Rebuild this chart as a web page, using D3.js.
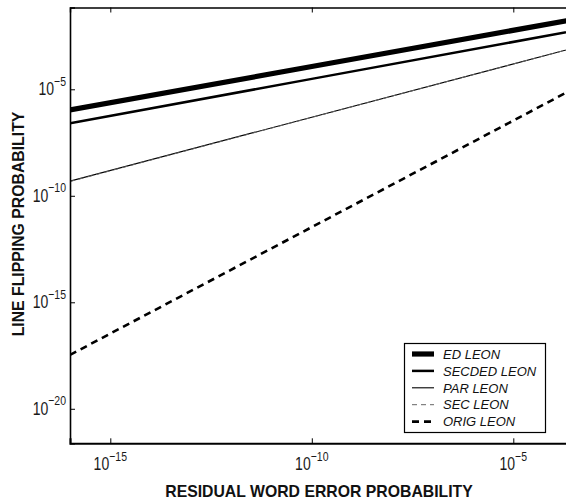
<!DOCTYPE html>
<html><head><meta charset="utf-8">
<script src="https://cdn.jsdelivr.net/npm/d3@7"></script>
<style>body{margin:0;background:#fff}svg{display:block}</style>
</head><body>
<svg id="c" width="566" height="500"></svg>
<script>
// residual word error probability (x) at which values were read
const xValues = [1e-16, 1e-10, 1e-3];
// line flipping probability, as log10
const edLeon     = [-5.97, -3.93, -1.55];
const secdedLeon = [-6.60, -4.51, -2.08];
const parLeon    = [-9.31, -6.31, -2.81];
const secLeon    = [-9.33, -6.32, -2.81];
const origLeon   = [-17.47, -11.47, -4.47];
const seriesNames = ["ED LEON", "SECDED LEON", "PAR LEON", "SEC LEON", "ORIG LEON"];
const xTickExps = [-15, -10, -5];
const yTickExps = [-20, -15, -10, -5];

const styles = [
  {w: 5.2, dash: null,  color: "#000"},
  {w: 2.5, dash: null,  color: "#000"},
  {w: 1.1, dash: null,  color: "#000"},
  {w: 1,   dash: "5,4", color: "#666"},
  {w: 2.6, dash: "7,5", color: "#000"}
];
const seriesData = [edLeon, secdedLeon, parLeon, secLeon, origLeon];

const svg = d3.select("#c");
const L = 70, T = 7.5, B = 443.3;
const x = d3.scaleLog().domain([1e-16, 1e-3]).range([L, L + 40.3 * 13]);
const y = d3.scaleLog().domain([Math.pow(10, -21.62), Math.pow(10, -1.16)]).range([B, T]);
const R = x.range()[1];

svg.append("defs").append("clipPath").attr("id", "clip")
  .append("rect").attr("x", L).attr("y", T).attr("width", R - L).attr("height", B - T);

const line = d3.line().x(d => x(d[0])).y(d => y(Math.pow(10, d[1])));
const g = svg.append("g").attr("clip-path", "url(#clip)");
seriesData.forEach((s, i) => {
  const pts = xValues.map((xv, j) => [xv, s[j]]);
  g.append("path").attr("d", line(pts))
    .attr("fill", "none").attr("stroke", styles[i].color)
    .attr("stroke-width", styles[i].w)
    .attr("stroke-dasharray", styles[i].dash);
});

const font = "Liberation Sans, Arial, sans-serif";
const xAxis = d3.axisBottom(x).tickValues(xTickExps.map(e => Math.pow(10, e))).tickSize(-5).tickFormat("");
const xAxisTop = d3.axisTop(x).tickValues(xTickExps.map(e => Math.pow(10, e))).tickSize(-5).tickFormat("");
const yAxis = d3.axisLeft(y).tickValues(yTickExps.map(e => Math.pow(10, e))).tickSize(-5).tickFormat("");

function styleAxis(sel, w) {
  sel.select(".domain").attr("stroke", "#000").attr("stroke-width", w);
  sel.selectAll(".tick line").attr("stroke", "#000").attr("stroke-width", 1);
}
svg.append("g").attr("transform", `translate(0,${B})`).call(xAxis).call(s => styleAxis(s, 2));
svg.append("g").attr("transform", `translate(0,${T})`).call(xAxisTop).call(s => styleAxis(s, 1.4));
svg.append("g").attr("transform", `translate(${L},0)`).call(yAxis).call(s => styleAxis(s, 1.6));

function powLabel(px, py, e, anchor) {
  const t = svg.append("g").attr("transform", `translate(${px},${py}) scale(1,1.25)`)
    .append("text").attr("text-anchor", anchor).attr("font-family", font)
    .attr("font-size", 14).attr("fill", "#1a1a1a");
  t.append("tspan").text("10");
  t.append("tspan").attr("dy", -7.5).attr("font-size", 10.5).text("\u2212" + (-e));
}
xTickExps.forEach(e => powLabel(x(Math.pow(10, e)), 470, e, "middle"));
yTickExps.forEach(e => powLabel(66, y(Math.pow(10, e)) + 6, e, "end"));

// axis titles
svg.append("g").attr("transform", "translate(319,497) scale(1,1.1)")
  .append("text").attr("text-anchor", "middle")
  .attr("font-family", font).attr("font-weight", "bold").attr("font-size", 15.8).attr("fill", "#111")
  .text("RESIDUAL WORD ERROR PROBABILITY");
svg.append("text").attr("transform", "translate(23.5,224) rotate(-90)").attr("text-anchor", "middle")
  .attr("font-family", font).attr("font-weight", "bold").attr("font-size", 15.8).attr("fill", "#111")
  .text("LINE FLIPPING PROBABILITY");

// legend
const lg = svg.append("g");
lg.append("rect").attr("x", 404.5).attr("y", 343.5).attr("width", 141).attr("height", 89)
  .attr("fill", "#fff").attr("stroke", "#000").attr("stroke-width", 1.2);
seriesNames.forEach((n, i) => {
  const yy = 354 + i * 16.9;
  lg.append("line").attr("x1", 412).attr("x2", 434).attr("y1", yy).attr("y2", yy)
    .attr("stroke", styles[i].color).attr("stroke-width", styles[i].w)
    .attr("stroke-dasharray", styles[i].dash);
  lg.append("text").attr("x", 443).attr("y", yy + 4.7).attr("font-family", font)
    .attr("font-style", "italic").attr("font-size", 13).attr("fill", "#111").text(n);
});
</script>
</body></html>
